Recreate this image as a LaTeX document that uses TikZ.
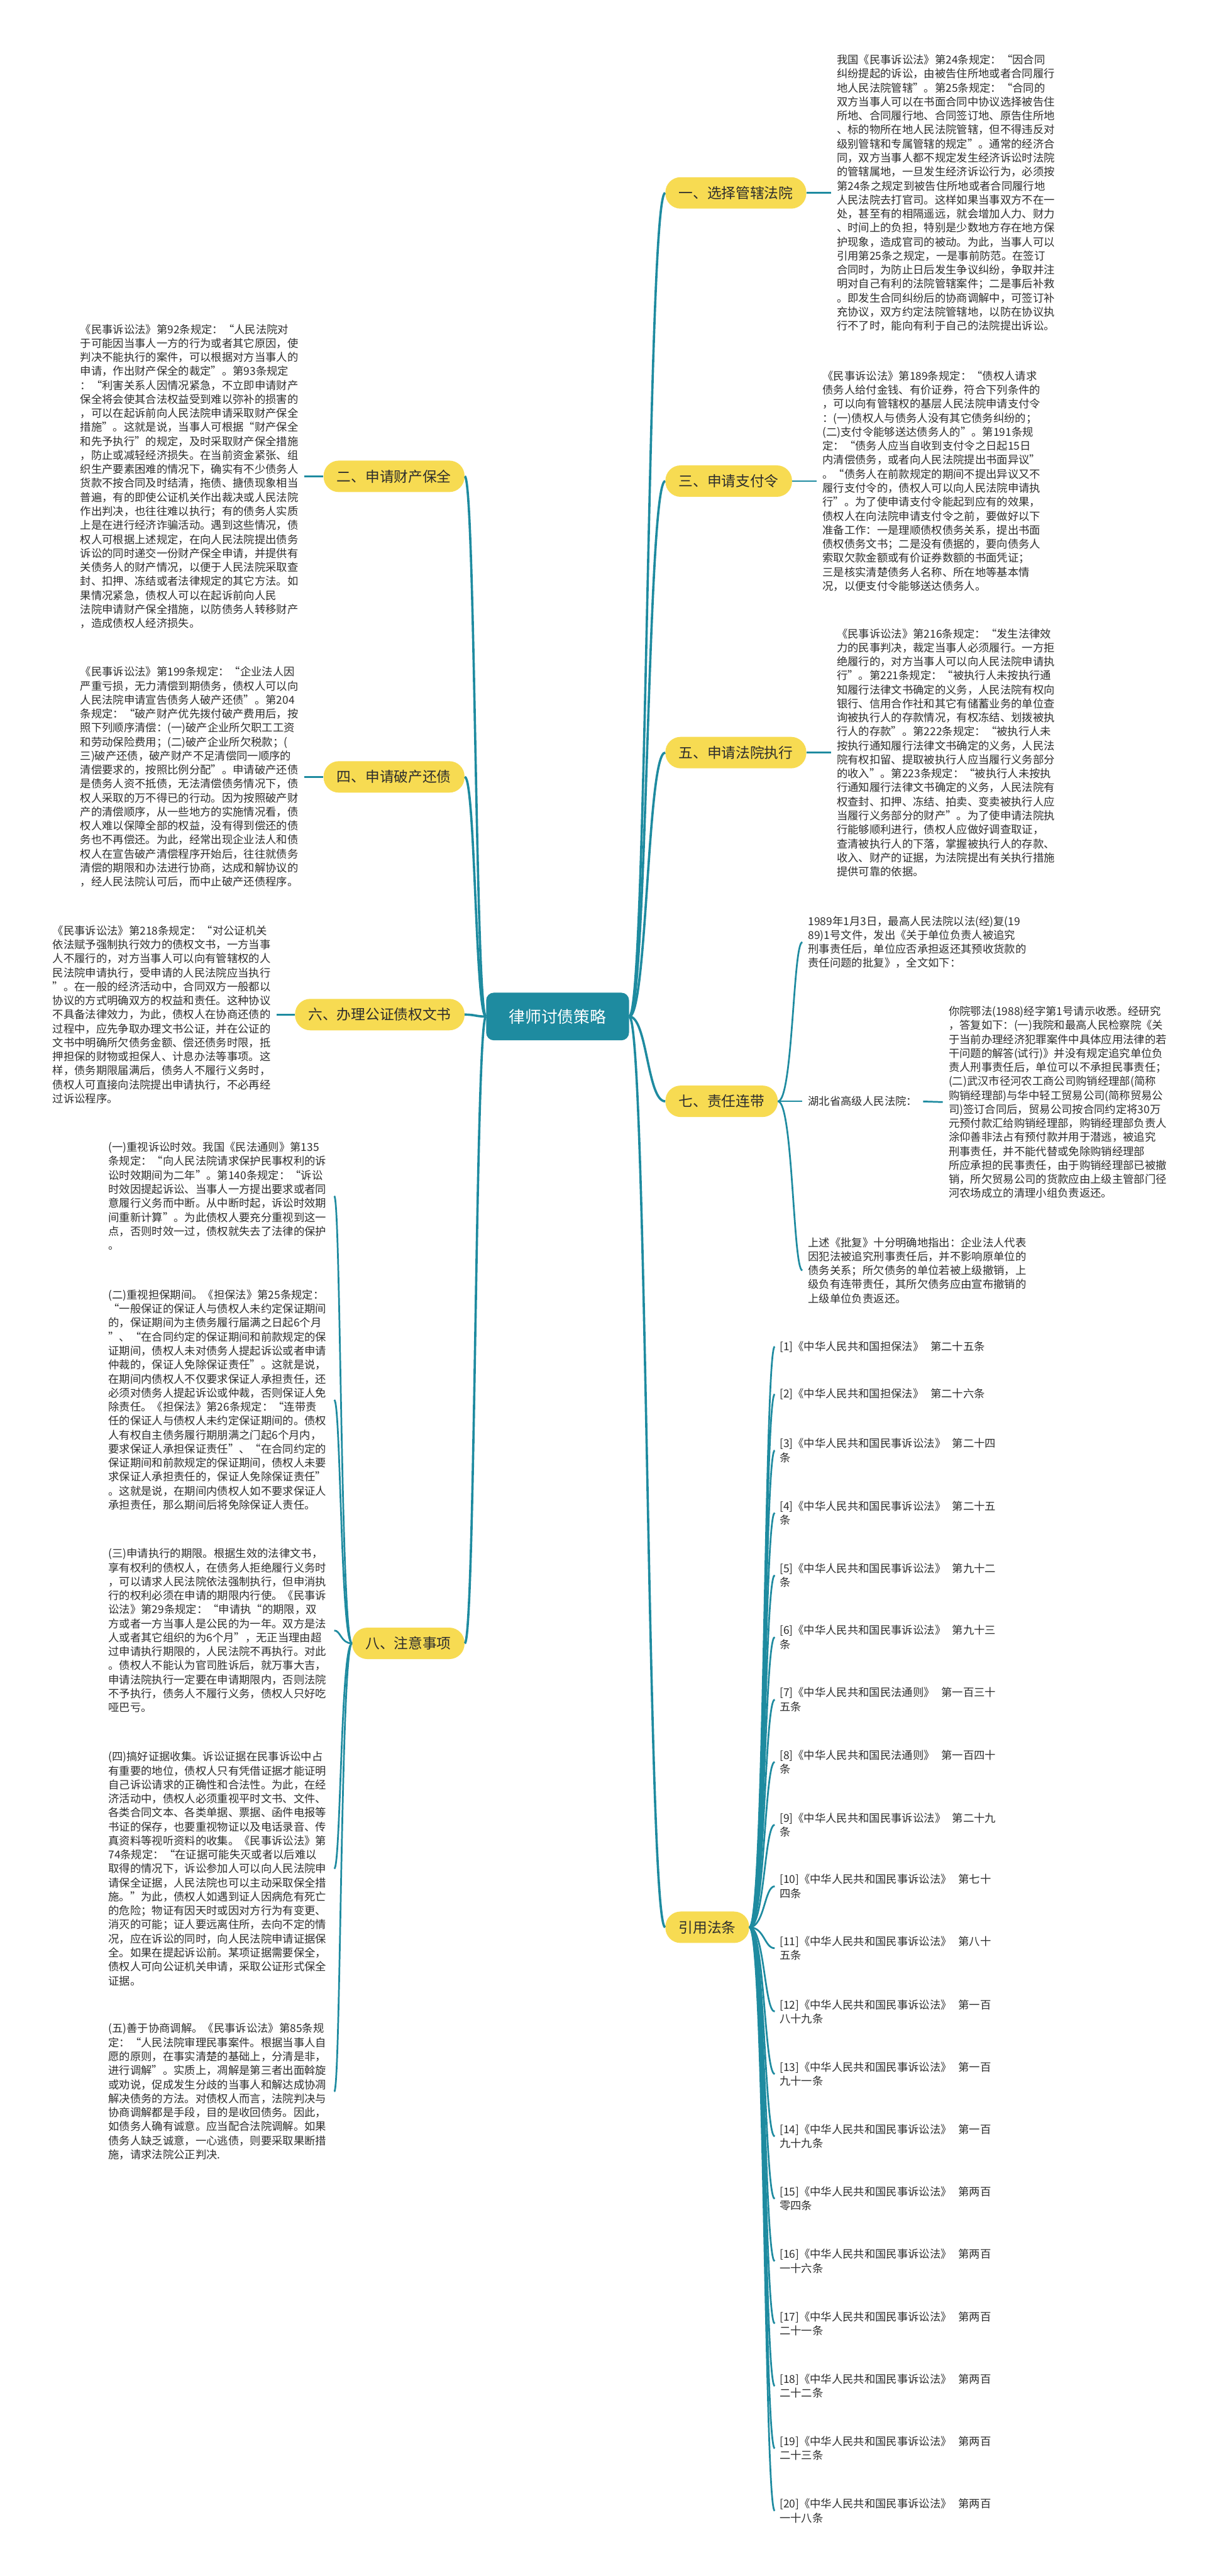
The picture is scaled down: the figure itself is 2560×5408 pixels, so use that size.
\documentclass[tikz,border=0pt]{standalone}
\usepackage{fontspec}
\setmainfont{Noto Sans CJK SC}
\usetikzlibrary{calc}
\definecolor{lineteal}{RGB}{30,139,160}
\definecolor{nodeyellow}{RGB}{247,219,82}
\definecolor{rootfill}{RGB}{30,139,160}
\definecolor{bodytext}{RGB}{45,45,45}
\tikzset{
 rootnode/.style={fill=rootfill, text=white, rounded corners=8pt, minimum width=150pt, minimum height=50pt, inner sep=0pt, font=\fontsize{17pt}{20pt}\selectfont},
 branchnode/.style={fill=nodeyellow, text=bodytext, rounded corners=16pt, minimum height=33pt, inner xsep=14pt, inner ysep=0pt, font=\fontsize{15pt}{18pt}\selectfont},
 leafnode/.style={align=left, text width=232pt, inner sep=0pt, text=bodytext, font=\fontsize{11.45pt}{14.7pt}\selectfont},
 plainleaf/.style={align=left, inner sep=0pt, text=bodytext, font=\fontsize{11.45pt}{14.7pt}\selectfont},
 mainlink/.style={draw=lineteal, line width=2.4pt},
 sublink/.style={draw=lineteal, line width=1.8pt},
 hbend/.style={to path={let \p1=(\tikztostart), \p2=(\tikztotarget) in .. controls ({0.5*\x1+0.5*\x2},\y1) and ({0.5*\x1+0.5*\x2},\y2) .. (\tikztotarget) \tikztonodes}},
}
\begin{document}
\begin{tikzpicture}[x=0.5pt,y=-0.5pt]
\fill[white] (0,0) rectangle (2560,5408);
\useasboundingbox (0,0) rectangle (2560,5408);

% root
\node[rootnode] (root) at (1171,2134) {律师讨债策略};

% branches right
\node[branchnode, anchor=west] (b1) at (1397,405) {一、选择管辖法院};
\node[branchnode, anchor=west] (b3) at (1397,1010) {三、申请支付令};
\node[branchnode, anchor=west] (b5) at (1397,1580) {五、申请法院执行};
\node[branchnode, anchor=west] (b7) at (1397,2312) {七、责任连带};
\node[branchnode, anchor=west] (b9) at (1397,4046) {引用法条};
% branches left
\node[branchnode, anchor=east] (b2) at (976,1000) {二、申请财产保全};
\node[branchnode, anchor=east] (b4) at (976,1631) {四、申请破产还债};
\node[branchnode, anchor=east] (b6) at (976,2130) {六、办理公证债权文书};
\node[branchnode, anchor=east] (b8) at (976,3450) {八、注意事项};

% root links
\foreach \b in {b1,b3,b5,b7,b9} \draw[mainlink] (root.east) to[hbend] (\b.west);
\foreach \b in {b2,b4,b6,b8} \draw[mainlink] (root.west) to[hbend] (\b.east);

% 一
\node[leafnode, anchor=west] (t1) at (1757,405) {我国《民事诉讼法》第24条规定：“因合同\\
纠纷提起的诉讼，由被告住所地或者合同履行\\
地人民法院管辖”。第25条规定：“合同的\\
双方当事人可以在书面合同中协议选择被告住\\
所地、合同履行地、合同签订地、原告住所地\\
、标的物所在地人民法院管辖，但不得违反对\\
级别管辖和专属管辖的规定”。通常的经济合\\
同，双方当事人都不规定发生经济诉讼时法院\\
的管辖属地，一旦发生经济诉讼行为，必须按\\
第24条之规定到被告住所地或者合同履行地\\
人民法院去打官司。这样如果当事双方不在一\\
处，甚至有的相隔遥远，就会增加人力、财力\\
、时间上的负担，特别是少数地方存在地方保\\
护现象，造成官司的被动。为此，当事人可以\\
引用第25条之规定，一是事前防范。在签订\\
合同时，为防止日后发生争议纠纷，争取并注\\
明对自己有利的法院管辖案件；二是事后补救\\
。即发生合同纠纷后的协商调解中，可签订补\\
充协议，双方约定法院管辖地，以防在协议执\\
行不了时，能向有利于自己的法院提出诉讼。};
\draw[sublink, shorten >=6pt] (b1.east) -- (t1.west);

% 三
\node[leafnode, anchor=west] (t3) at (1727,1010) {《民事诉讼法》第189条规定：“债权人请求\\
债务人给付金钱、有价证券，符合下列条件的\\
，可以向有管辖权的基层人民法院申请支付令\\
：(一)债权人与债务人没有其它债务纠纷的；\\
(二)支付令能够送达债务人的”。第191条规\\
定：“债务人应当自收到支付令之日起15日\\
内清偿债务，或者向人民法院提出书面异议”\\
。“债务人在前款规定的期间不提出异议又不\\
履行支付令的，债权人可以向人民法院申请执\\
行”。为了使申请支付令能起到应有的效果，\\
债权人在向法院申请支付令之前，要做好以下\\
准备工作：一是理顺债权债务关系，提出书面\\
债权债务文书；二是没有债据的，要向债务人\\
索取欠款金额或有价证券数额的书面凭证；\\
三是核实清楚债务人名称、所在地等基本情\\
况，以便支付令能够送达债务人。};
\draw[sublink, shorten >=6pt] (b3.east) -- (t3.west);

% 五
\node[leafnode, anchor=west] (t5) at (1757,1580) {《民事诉讼法》第216条规定：“发生法律效\\
力的民事判决，裁定当事人必须履行。一方拒\\
绝履行的，对方当事人可以向人民法院申请执\\
行”。第221条规定：“被执行人未按执行通\\
知履行法律文书确定的义务，人民法院有权向\\
银行、信用合作社和其它有储蓄业务的单位查\\
询被执行人的存款情况，有权冻结、划拨被执\\
行人的存款”。第222条规定：“被执行人未\\
按执行通知履行法律文书确定的义务，人民法\\
院有权扣留、提取被执行人应当履行义务部分\\
的收入”。第223条规定：“被执行人未按执\\
行通知履行法律文书确定的义务，人民法院有\\
权查封、扣押、冻结、拍卖、变卖被执行人应\\
当履行义务部分的财产”。为了使申请法院执\\
行能够顺利进行，债权人应做好调查取证，\\
查清被执行人的下落，掌握被执行人的存款、\\
收入、财产的证据，为法院提出有关执行措施\\
提供可靠的依据。};
\draw[sublink, shorten >=6pt] (b5.east) -- (t5.west);

% 七
\node[leafnode, anchor=west] (t7a) at (1697,1978) {1989年1月3日，最高人民法院以法(经)复(19\\
89)1号文件，发出《关于单位负责人被追究\\
刑事责任后，单位应否承担返还其预收货款的\\
责任问题的批复》，全文如下：};
\node[plainleaf, anchor=west] (t7h) at (1697,2312) {湖北省高级人民法院：};
\node[leafnode, anchor=west, text width=250pt] (t7c) at (1992,2314) {你院鄂法(1988)经字第1号请示收悉。经研究\\
，答复如下：(一)我院和最高人民检察院《关\\
于当前办理经济犯罪案件中具体应用法律的若\\
干问题的解答(试行)》并没有规定追究单位负\\
责人刑事责任后，单位可以不承担民事责任；\\
(二)武汉市径河农工商公司购销经理部(简称\\
购销经理部)与华中轻工贸易公司(简称贸易公\\
司)签订合同后，贸易公司按合同约定将30万\\
元预付款汇给购销经理部，购销经理部负责人\\
涂仰善非法占有预付款并用于潜逃，被追究\\
刑事责任，并不能代替或免除购销经理部\\
所应承担的民事责任，由于购销经理部已被撤\\
销，所欠贸易公司的货款应由上级主管部门径\\
河农场成立的清理小组负责返还。};
\node[leafnode, anchor=west] (t7b) at (1697,2667) {上述《批复》十分明确地指出：企业法人代表\\
因犯法被追究刑事责任后，并不影响原单位的\\
债务关系；所欠债务的单位若被上级撤销，上\\
级负有连带责任，其所欠债务应由宣布撤销的\\
上级单位负责返还。};
\draw[sublink, shorten >=6pt] (b7.east) to[hbend] (t7a.west);
\draw[sublink, shorten >=6pt] (b7.east) -- (t7h.west);
\draw[sublink, shorten >=6pt] (b7.east) to[hbend] (t7b.west);
\draw[sublink, shorten <=6pt, shorten >=6pt] (t7h.east) -- (t7c.west);

% 二
\node[leafnode, anchor=east] (t2) at (633,1000) {《民事诉讼法》第92条规定：“人民法院对\\
于可能因当事人一方的行为或者其它原因，使\\
判决不能执行的案件，可以根据对方当事人的\\
申请，作出财产保全的裁定”。第93条规定\\
：“利害关系人因情况紧急，不立即申请财产\\
保全将会使其合法权益受到难以弥补的损害的\\
，可以在起诉前向人民法院申请采取财产保全\\
措施”。这就是说，当事人可根据“财产保全\\
和先予执行”的规定，及时采取财产保全措施\\
，防止或减轻经济损失。在当前资金紧张、组\\
织生产要素困难的情况下，确实有不少债务人\\
货款不按合同及时结清，拖债、搪债现象相当\\
普遍，有的即使公证机关作出裁决或人民法院\\
作出判决，也往往难以执行；有的债务人实质\\
上是在进行经济诈骗活动。遇到这些情况，债\\
权人可根据上述规定，在向人民法院提出债务\\
诉讼的同时递交一份财产保全申请，并提供有\\
关债务人的财产情况，以便于人民法院采取查\\
封、扣押、冻结或者法律规定的其它方法。如\\
果情况紧急，债权人可以在起诉前向人民\\
法院申请财产保全措施，以防债务人转移财产\\
，造成债权人经济损失。};
\draw[sublink, shorten <=3pt] (t2.east) -- (b2.west);

% 四
\node[leafnode, anchor=east] (t4) at (633,1631) {《民事诉讼法》第199条规定：“企业法人因\\
严重亏损，无力清偿到期债务，债权人可以向\\
人民法院申请宣告债务人破产还债”。第204\\
条规定：“破产财产优先拨付破产费用后，按\\
照下列顺序清偿：(一)破产企业所欠职工工资\\
和劳动保险费用；(二)破产企业所欠税款；(\\
三)破产还债，破产财产不足清偿同一顺序的\\
清偿要求的，按照比例分配”。申请破产还债\\
是债务人资不抵债，无法清偿债务情况下，债\\
权人采取的万不得已的行动。因为按照破产财\\
产的清偿顺序，从一些地方的实施情况看，债\\
权人难以保障全部的权益，没有得到偿还的债\\
务也不再偿还。为此，经常出现企业法人和债\\
权人在宣告破产清偿程序开始后，往往就债务\\
清偿的期限和办法进行协商，达成和解协议的\\
，经人民法院认可后，而中止破产还债程序。};
\draw[sublink, shorten <=3pt] (t4.east) -- (b4.west);

% 六
\node[leafnode, anchor=east] (t6) at (575,2130) {《民事诉讼法》第218条规定：“对公证机关\\
依法赋予强制执行效力的债权文书，一方当事\\
人不履行的，对方当事人可以向有管辖权的人\\
民法院申请执行，受申请的人民法院应当执行\\
”。在一般的经济活动中，合同双方一般都以\\
协议的方式明确双方的权益和责任。这种协议\\
不具备法律效力，为此，债权人在协商还债的\\
过程中，应先争取办理文书公证，并在公证的\\
文书中明确所欠债务金额、偿还债务时限，抵\\
押担保的财物或担保人、计息办法等事项。这\\
样，债务期限届满后，债务人不履行义务时，\\
债权人可直接向法院提出申请执行，不必再经\\
过诉讼程序。};
\draw[sublink, shorten <=3pt] (t6.east) -- (b6.west);

% 八
\node[leafnode, anchor=east] (t8a) at (692,2511) {(一)重视诉讼时效。我国《民法通则》第135\\
条规定：“向人民法院请求保护民事权利的诉\\
讼时效期间为二年”。第140条规定：“诉讼\\
时效因提起诉讼、当事人一方提出要求或者同\\
意履行义务而中断。从中断时起，诉讼时效期\\
间重新计算”。为此债权人要充分重视到这一\\
点，否则时效一过，债权就失去了法律的保护\\
。};
\node[leafnode, anchor=east] (t8b) at (692,2939) {(二)重视担保期间。《担保法》第25条规定：\\
“一般保证的保证人与债权人未约定保证期间\\
的，保证期间为主债务履行届满之日起6个月\\
”、“在合同约定的保证期间和前款规定的保\\
证期间，债权人未对债务人提起诉讼或者申请\\
仲裁的，保证人免除保证责任”。这就是说，\\
在期间内债权人不仅要求保证人承担责任，还\\
必须对债务人提起诉讼或仲裁，否则保证人免\\
除责任。《担保法》第26条规定：“连带责\\
任的保证人与债权人未约定保证期间的。债权\\
人有权自主债务履行期朋满之门起6个月内，\\
要求保证人承担保证责任”、“在合同约定的\\
保证期间和前款规定的保证期间，债权人未要\\
求保证人承担责任的，保证人免除保证责任”\\
。这就是说，在期间内债权人如不要求保证人\\
承担责任，那么期间后将免除保证人责任。};
\node[leafnode, anchor=east] (t8c) at (692,3423) {(三)申请执行的期限。根据生效的法律文书，\\
享有权利的债权人，在债务人拒绝履行义务时\\
，可以请求人民法院依法强制执行，但申消执\\
行的权利必须在申请的期限内行使。《民事诉\\
讼法》第29条规定：“申请执“的期限，双\\
方或者一方当事人是公民的为一年。双方是法\\
人或者其它组织的为6个月”，无正当理由超\\
过申请执行期限的，人民法院不再执行。对此\\
。债权人不能认为官司胜诉后，就万事大吉，\\
申请法院执行一定要在申请期限内，否则法院\\
不予执行，债务人不履行义务，债权人只好吃\\
哑巴亏。};
\node[leafnode, anchor=east] (t8d) at (692,3923) {(四)搞好证据收集。诉讼证据在民事诉讼中占\\
有重要的地位，债权人只有凭借证据才能证明\\
自己诉讼请求的正确性和合法性。为此，在经\\
济活动中，债权人必须重视平时文书、文件、\\
各类合同文本、各类单据、票据、函件电报等\\
书证的保存，也要重视物证以及电话录音、传\\
真资料等视听资料的收集。《民事诉讼法》第\\
74条规定：“在证据可能失灭或者以后难以\\
取得的情况下，诉讼参加人可以向人民法院申\\
请保全证据，人民法院也可以主动采取保全措\\
施。”为此，债权人如遇到证人因病危有死亡\\
的危险；物证有因天时或因对方行为有变更、\\
消灭的可能；证人要远离住所，去向不定的情\\
况，应在诉讼的同时，向人民法院申请证据保\\
全。如果在提起诉讼前。某项证据需要保全，\\
债权人可向公证机关申请，采取公证形式保全\\
证据。};
\node[leafnode, anchor=east] (t8e) at (692,4391) {(五)善于协商调解。《民事诉讼法》第85条规\\
定：“人民法院审理民事案件。根据当事人自\\
愿的原则，在事实清楚的基础上，分清是非，\\
进行调解”。实质上，凋解是第三者出面斡旋\\
或劝说，促成发生分歧的当事人和解达成协凋\\
解决债务的方法。对债权人而言，法院判决与\\
协商调解都是手段，目的是收回债务。因此，\\
如债务人确有诚意。应当配合法院调解。如果\\
债务人缺乏诚意，一心逃债，则要采取果断措\\
施，请求法院公正判决.};
\foreach \t in {t8a,t8b,t8c,t8d,t8e} \draw[sublink, shorten >=5pt] (b8.west) to[hbend] (\t.east);

% 引用法条
\node[plainleaf, anchor=west] (r1) at (1637,2827) {{[1]}《中华人民共和国担保法》\hspace{0.6em}第二十五条};
\node[plainleaf, anchor=west] (r2) at (1637,2927) {{[2]}《中华人民共和国担保法》\hspace{0.6em}第二十六条};
\node[plainleaf, anchor=west] (r3) at (1637,3045) {{[3]}《中华人民共和国民事诉讼法》\hspace{0.6em}第二十四\\条};
\node[plainleaf, anchor=west] (r4) at (1637,3176) {{[4]}《中华人民共和国民事诉讼法》\hspace{0.6em}第二十五\\条};
\node[plainleaf, anchor=west] (r5) at (1637,3307) {{[5]}《中华人民共和国民事诉讼法》\hspace{0.6em}第九十二\\条};
\node[plainleaf, anchor=west] (r6) at (1637,3437) {{[6]}《中华人民共和国民事诉讼法》\hspace{0.6em}第九十三\\条};
\node[plainleaf, anchor=west] (r7) at (1637,3568) {{[7]}《中华人民共和国民法通则》\hspace{0.6em}第一百三十\\五条};
\node[plainleaf, anchor=west] (r8) at (1637,3699) {{[8]}《中华人民共和国民法通则》\hspace{0.6em}第一百四十\\条};
\node[plainleaf, anchor=west] (r9) at (1637,3831) {{[9]}《中华人民共和国民事诉讼法》\hspace{0.6em}第二十九\\条};
\node[plainleaf, anchor=west] (r10) at (1637,3960) {{[10]}《中华人民共和国民事诉讼法》\hspace{0.6em}第七十\\四条};
\node[plainleaf, anchor=west] (r11) at (1637,4090) {{[11]}《中华人民共和国民事诉讼法》\hspace{0.6em}第八十\\五条};
\node[plainleaf, anchor=west] (r12) at (1637,4223) {{[12]}《中华人民共和国民事诉讼法》\hspace{0.6em}第一百\\八十九条};
\node[plainleaf, anchor=west] (r13) at (1637,4354) {{[13]}《中华人民共和国民事诉讼法》\hspace{0.6em}第一百\\九十一条};
\node[plainleaf, anchor=west] (r14) at (1637,4485) {{[14]}《中华人民共和国民事诉讼法》\hspace{0.6em}第一百\\九十九条};
\node[plainleaf, anchor=west] (r15) at (1637,4616) {{[15]}《中华人民共和国民事诉讼法》\hspace{0.6em}第两百\\零四条};
\node[plainleaf, anchor=west] (r16) at (1637,4747) {{[16]}《中华人民共和国民事诉讼法》\hspace{0.6em}第两百\\一十六条};
\node[plainleaf, anchor=west] (r17) at (1637,4878) {{[17]}《中华人民共和国民事诉讼法》\hspace{0.6em}第两百\\二十一条};
\node[plainleaf, anchor=west] (r18) at (1637,5009) {{[18]}《中华人民共和国民事诉讼法》\hspace{0.6em}第两百\\二十二条};
\node[plainleaf, anchor=west] (r19) at (1637,5140) {{[19]}《中华人民共和国民事诉讼法》\hspace{0.6em}第两百\\二十三条};
\node[plainleaf, anchor=west] (r20) at (1637,5271) {{[20]}《中华人民共和国民事诉讼法》\hspace{0.6em}第两百\\一十八条};
\foreach \r in {r1,r2,r3,r4,r5,r6,r7,r8,r9,r10,r11,r12,r13,r14,r15,r16,r17,r18,r19,r20} \draw[sublink, shorten >=5pt] (b9.east) to[hbend] (\r.west);
\end{tikzpicture}
\end{document}
